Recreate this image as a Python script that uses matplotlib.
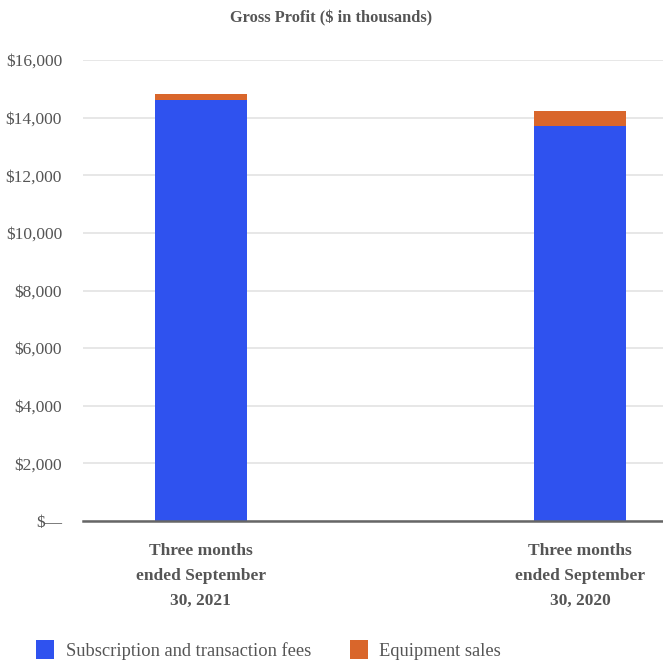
import matplotlib.pyplot as plt
from matplotlib.patches import Patch
from matplotlib.ticker import FuncFormatter

plt.rcParams['font.family'] = ['Liberation Serif', 'DejaVu Serif']

periods = ['Three months\nended September\n30, 2021', 'Three months\nended September\n30, 2020']
subscription = [14600, 13720]
equipment = [235, 500]
series_names = ['Subscription and transaction fees', 'Equipment sales']
blue = '#2f52ef'
orange = '#d9662b'

fig = plt.figure(figsize=(6.63, 6.72), dpi=100)
ax = fig.add_axes([0.125, 0.2247, 0.875, 0.686])

x = [0, 1]
w = 0.243
ax.bar(x, subscription, width=w, color=blue, zorder=3)
ax.bar(x, equipment, width=w, bottom=subscription, color=orange, zorder=3)

ax.set_xlim(-0.311, 1.219)
ax.set_ylim(0, 16000)
ax.set_yticks(range(0, 16001, 2000))

def money(v, pos):
    if v == 0:
        return '$\u2014'
    return '${:,.0f}'.format(v)

ax.yaxis.set_major_formatter(FuncFormatter(money))
ax.grid(axis='y', color='#e3e3e3', linewidth=1.2, zorder=0)
for s in ['top', 'right', 'left']:
    ax.spines[s].set_visible(False)
ax.spines['bottom'].set_color('#666666')
ax.spines['bottom'].set_linewidth(1.8)
ax.spines['bottom'].set_zorder(4)

ax.tick_params(axis='y', length=0, pad=15, labelsize=12.5, labelcolor='#555555')
ax.tick_params(axis='x', length=0, pad=15.5)
ax.set_xticks(x)
ax.set_xticklabels(periods, fontsize=12.5, fontweight='bold', color='#555555', linespacing=1.75)

fig.text(0.5, 0.973, 'Gross Profit ($ in thousands)', ha='center', va='center',
         fontsize=11.8, fontweight='bold', color='#555555')

handles = [Patch(facecolor=blue), Patch(facecolor=orange)]
leg = fig.legend(handles, series_names, loc='center left', bbox_to_anchor=(36 / 663, 0.033), ncol=2,
                 frameon=False, fontsize=13.3, handlelength=1.0, handleheight=1.2,
                 columnspacing=2.1, handletextpad=0.6, borderpad=0, borderaxespad=0)
for t in leg.get_texts():
    t.set_color('#555555')

fig.savefig('out.png', dpi=100)
